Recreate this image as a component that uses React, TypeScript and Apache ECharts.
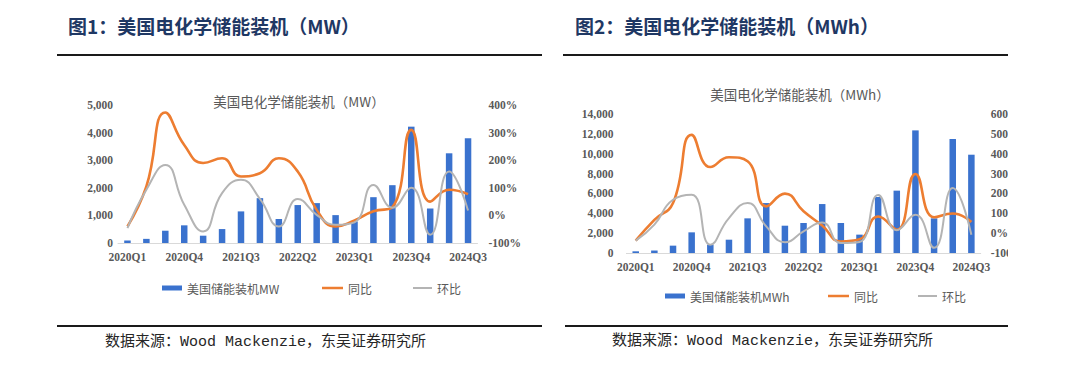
import React, { useEffect, useRef } from "react";
import * as echarts from "echarts";

const quarters = [
  "2020Q1", "2020Q2", "2020Q3", "2020Q4",
  "2021Q1", "2021Q2", "2021Q3", "2021Q4",
  "2022Q1", "2022Q2", "2022Q3", "2022Q4",
  "2023Q1", "2023Q2", "2023Q3", "2023Q4",
  "2024Q1", "2024Q2", "2024Q3",
];

// Figure 1 (MW)
const mwInstalled = [90, 150, 445, 640, 265, 505, 1145, 1625, 870, 1375, 1445, 1010, 780, 1660, 2095, 4215, 1250, 3250, 3795];
const mwYoY = [-40, 105, 373, 255, 190, 207, 141, 153, 207, 159, 20, -40, -18, 15, 30, 310, 50, 93, 77];
const mwQoQ = [-46, 93, 183, 39, -58, 81, 129, 60, -40, 59, 2, -34, -25, 110, 28, 100, -70, 159, 18];

// Figure 2 (MWh)
const mwhInstalled = [170, 250, 740, 2080, 840, 1340, 3490, 5030, 2750, 3020, 4930, 3020, 1850, 5640, 6280, 12350, 3490, 11480, 9900];
const mwhYoY = [-38, 67, 152, 495, 333, 382, 362, 135, 199, 110, 38, -42, -31, 84, 17, 298, 80, 99, 56];
const mwhQoQ = [-38, 43, 168, 193, -58, 76, 152, 34, -46, 9, 54, -50, -45, 192, 15, 92, -74, 227, -8];

const BLUE = "#3A72CE";
const ORANGE = "#ED7D31";
const GRAY = "#B4B4B4";
const LABEL = "#595959";
const NAVY = "#1F3864";
const CJK = "'Noto Sans CJK SC', sans-serif";
const SERIF = "'Liberation Serif', 'Noto Sans CJK SC', serif";
const SRC_FONT = "'Liberation Mono', 'Noto Sans CJK SC', monospace";

type Cfg = {
  width: number;
  header: string;
  headerX: number;
  lineX1: number;
  lineX2: number;
  bottomX1: number;
  sourceX: number;
  sourceY: number;
  innerTitle: string;
  innerTitleX: number;
  innerTitleY: number;
  grid: { left: number; right: number; top: number; bottom: number };
  leftMax: number;
  leftInterval: number;
  rightMin: number;
  rightMax: number;
  leftMargin: number;
  rightMargin: number;
  labelSize: number;
  barName: string;
  bars: number[];
  yoy: number[];
  qoq: number[];
  legendX: number[];
  legendTop: number;
};

function buildOption(c: Cfg): any {
  const axisLabelStyle = {
    color: LABEL,
    fontFamily: SERIF,
    fontWeight: "bold",
    fontSize: c.labelSize,
  };
  const legendText = { color: LABEL, fontFamily: CJK, fontSize: 12 };
  return {
    animation: false,
    backgroundColor: "#ffffff",
    graphic: [
      {
        type: "text",
        x: c.headerX,
        y: 25,
        style: {
          text: c.header,
          fill: NAVY,
          font: `bold 19px ${CJK}`,
          align: "left",
          verticalAlign: "middle",
        },
      },
      {
        type: "line",
        shape: { x1: c.lineX1, y1: 55, x2: c.lineX2, y2: 55 },
        style: { stroke: "#1a1a1a", lineWidth: 2 },
      },
      {
        type: "line",
        shape: { x1: c.bottomX1, y1: 326, x2: c.lineX2, y2: 326 },
        style: { stroke: "#1a1a1a", lineWidth: 2 },
      },
      {
        type: "text",
        x: c.sourceX,
        y: c.sourceY,
        style: {
          text: "数据来源：Wood Mackenzie，东吴证券研究所",
          fill: "#262626",
          font: `15px ${SRC_FONT}`,
          align: "left",
          verticalAlign: "middle",
        },
      },
      {
        type: "text",
        x: c.innerTitleX,
        y: c.innerTitleY,
        style: {
          text: c.innerTitle,
          fill: LABEL,
          font: `13.5px ${CJK}`,
          align: "center",
          verticalAlign: "middle",
        },
      },
    ],
    grid: { ...c.grid, containLabel: false, outerBoundsMode: "none" },
    legend: [
      {
        left: c.legendX[0],
        top: c.legendTop,
        itemWidth: 20,
        itemHeight: 5,
        textStyle: legendText,
        data: [{ name: c.barName, icon: "rect" }],
      },
      {
        left: c.legendX[1],
        top: c.legendTop,
        itemWidth: 21,
        itemHeight: 2.5,
        textStyle: legendText,
        data: [{ name: "同比", icon: "rect" }],
      },
      {
        left: c.legendX[2],
        top: c.legendTop,
        itemWidth: 19,
        itemHeight: 2,
        textStyle: legendText,
        data: [{ name: "环比", icon: "rect" }],
      },
    ],
    xAxis: {
      type: "category",
      data: quarters,
      boundaryGap: true,
      axisLine: { show: true, lineStyle: { color: "#D9D9D9", width: 1 } },
      axisTick: { show: false },
      axisLabel: { ...axisLabelStyle, interval: 2, margin: 8 },
      splitLine: { show: false },
    },
    yAxis: [
      {
        type: "value",
        min: 0,
        max: c.leftMax,
        interval: c.leftInterval,
        axisLine: { show: false },
        axisTick: { show: false },
        splitLine: { show: false },
        axisLabel: {
          ...axisLabelStyle,
          margin: c.leftMargin,
          formatter: (v: number) => v.toLocaleString("en-US"),
        },
      },
      {
        type: "value",
        min: c.rightMin,
        max: c.rightMax,
        interval: 100,
        axisLine: { show: false },
        axisTick: { show: false },
        splitLine: { show: false },
        axisLabel: {
          ...axisLabelStyle,
          align: "left",
          margin: c.rightMargin,
          formatter: "{value}%",
        },
      },
    ],
    series: [
      {
        name: c.barName,
        type: "bar",
        data: c.bars,
        barWidth: 6.5,
        itemStyle: { color: BLUE },
        yAxisIndex: 0,
      },
      {
        name: "同比",
        type: "line",
        data: c.yoy,
        yAxisIndex: 1,
        smooth: 0.5,
        symbol: "none",
        lineStyle: { color: ORANGE, width: 2.6 },
        itemStyle: { color: ORANGE },
      },
      {
        name: "环比",
        type: "line",
        data: c.qoq,
        yAxisIndex: 1,
        smooth: 0.5,
        symbol: "none",
        lineStyle: { color: GRAY, width: 2 },
        itemStyle: { color: GRAY },
      },
    ],
  };
}

const RIGHT_OFFSET = 545;
const RIGHT_WIDTH = 463;

const leftCfg: Cfg = {
  width: 545,
  header: "图1：美国电化学储能装机（MW）",
  headerX: 68,
  lineX1: 57,
  lineX2: 542,
  bottomX1: 57,
  sourceX: 105,
  sourceY: 342,
  innerTitle: "美国电化学储能装机（MW）",
  innerTitleX: 299,
  innerTitleY: 101,
  grid: { left: 118, right: 545 - 477.5, top: 105, bottom: 367 - 243 },
  leftMax: 5000,
  leftInterval: 1000,
  rightMin: -100,
  rightMax: 400,
  leftMargin: 5,
  rightMargin: 11,
  labelSize: 11.5,
  barName: "美国储能装机MW",
  bars: mwInstalled,
  yoy: mwYoY,
  qoq: mwQoQ,
  legendX: [157, 317, 408],
  legendTop: 277,
};

const rightCfg: Cfg = {
  width: RIGHT_WIDTH,
  header: "图2：美国电化学储能装机（MWh）",
  headerX: 575 - RIGHT_OFFSET,
  lineX1: 563 - RIGHT_OFFSET,
  lineX2: RIGHT_WIDTH,
  bottomX1: 565 - RIGHT_OFFSET,
  sourceX: 612 - RIGHT_OFFSET,
  sourceY: 341,
  innerTitle: "美国电化学储能装机（MWh）",
  innerTitleX: 800 - RIGHT_OFFSET,
  innerTitleY: 94,
  grid: { left: 626.4 - RIGHT_OFFSET, right: 1008 - 980.7, top: 114, bottom: 367 - 253 },
  leftMax: 14000,
  leftInterval: 2000,
  rightMin: -100,
  rightMax: 600,
  leftMargin: 13,
  rightMargin: 10,
  labelSize: 11.5,
  barName: "美国储能装机MWh",
  bars: mwhInstalled,
  yoy: mwhYoY,
  qoq: mwhQoQ,
  legendX: [660 - RIGHT_OFFSET, 823 - RIGHT_OFFSET, 913 - RIGHT_OFFSET],
  legendTop: 285,
};

function ChartBox({ cfg, left }: { cfg: Cfg; left: number }) {
  const ref = useRef<HTMLDivElement | null>(null);
  useEffect(() => {
    if (!ref.current) return;
    const chart = echarts.init(ref.current, undefined, { renderer: "svg" });
    chart.setOption(buildOption(cfg));
    return () => chart.dispose();
  }, [cfg]);
  return (
    <div
      ref={ref}
      style={{
        position: "absolute",
        left,
        top: 0,
        width: cfg.width,
        height: 367,
        overflow: "hidden",
      }}
    />
  );
}

export default function App() {
  return (
    <div
      style={{
        position: "absolute",
        left: 0,
        top: 0,
        width: 1080,
        height: 367,
        background: "#ffffff",
        overflow: "hidden",
      }}
    >
      <ChartBox cfg={leftCfg} left={0} />
      <ChartBox cfg={rightCfg} left={RIGHT_OFFSET} />
    </div>
  );
}
